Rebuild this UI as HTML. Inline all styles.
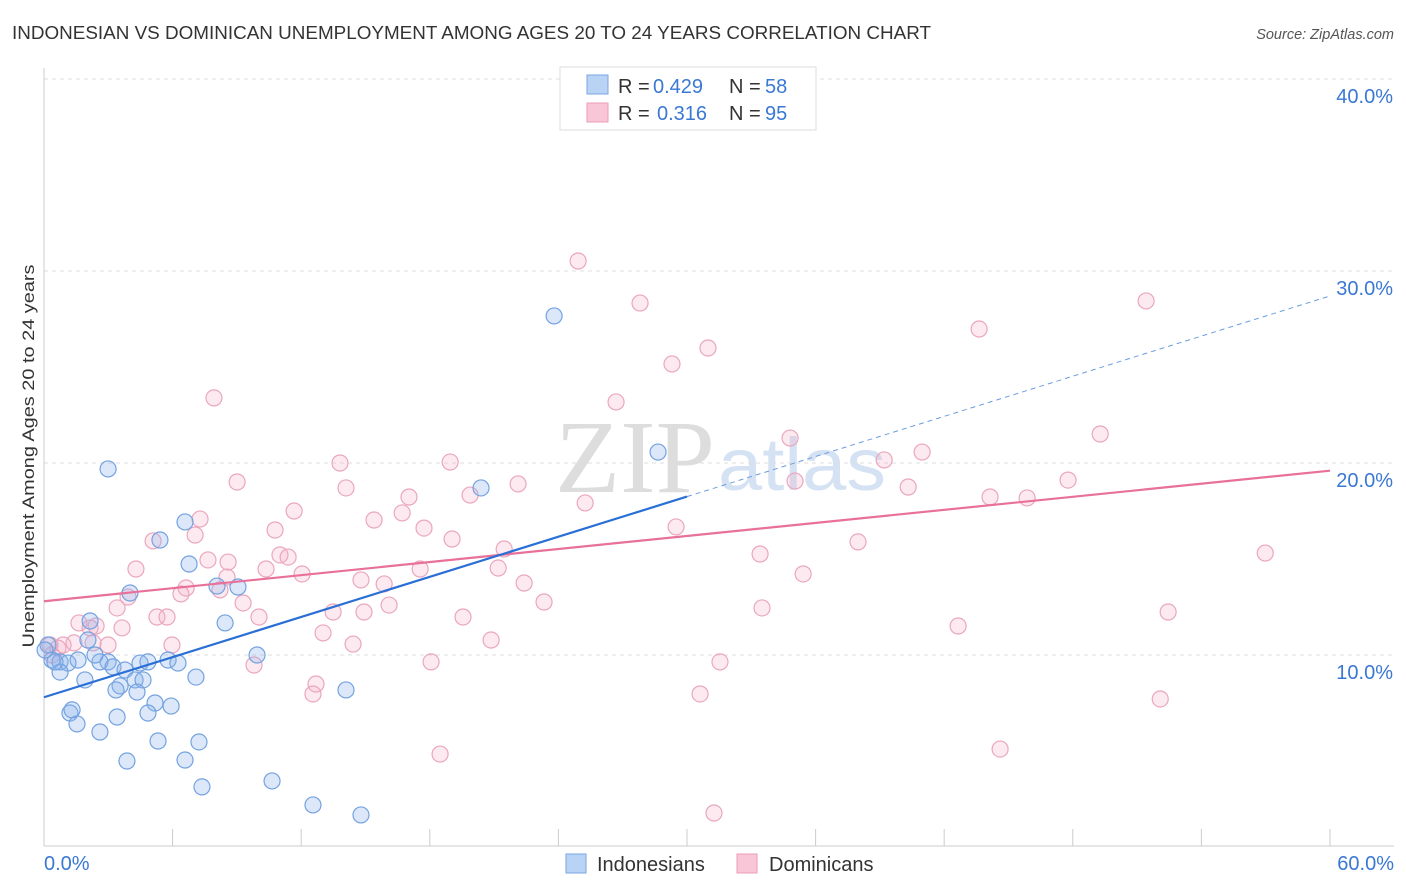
<!DOCTYPE html>
<html><head><meta charset="utf-8"><style>
body{margin:0;background:#fff;font-family:"Liberation Sans",sans-serif;}
#wrap{position:relative;width:1406px;height:892px;overflow:hidden;}
</style></head><body>
<div id="wrap">
<svg id="svg" width="1406" height="892" xmlns="http://www.w3.org/2000/svg">
<text x="12" y="39" font-size="18" fill="#333" textLength="919" lengthAdjust="spacingAndGlyphs">INDONESIAN VS DOMINICAN UNEMPLOYMENT AMONG AGES 20 TO 24 YEARS CORRELATION CHART</text>
<text x="1394" y="39" font-size="14.5" fill="#555" font-style="italic" text-anchor="end">Source: ZipAtlas.com</text>
<text x="555" y="492" font-size="104" fill="#ddd" textLength="160" lengthAdjust="spacingAndGlyphs" font-family="Liberation Serif">ZIP</text>
<text x="718" y="490" font-size="74" fill="#d4e2f3" textLength="168" lengthAdjust="spacingAndGlyphs">atlas</text>
<g id="grid"></g><g id="axes"></g><g id="pts"></g><g id="lines"></g>
<text transform="translate(34,456) rotate(-90)" font-size="17" fill="#333" text-anchor="middle" textLength="383" lengthAdjust="spacingAndGlyphs">Unemployment Among Ages 20 to 24 years</text>
<g>
<rect x="560" y="67" width="256" height="63" fill="#fff" stroke="#ddd"/>
<rect x="587" y="75" width="21" height="19" fill="#b9d3f5" stroke="#7aa6e3"/>
<rect x="587" y="103" width="21" height="19" fill="#f8c6d6" stroke="#ec9cb7"/>
<text y="93" font-size="20" fill="#333"><tspan x="618">R =</tspan><tspan x="653" fill="#3a78d4">0.429</tspan><tspan x="729">N =</tspan><tspan x="765" fill="#3a78d4">58</tspan></text>
<text y="120" font-size="20" fill="#333"><tspan x="618">R =</tspan><tspan x="657" fill="#3a78d4">0.316</tspan><tspan x="729">N =</tspan><tspan x="765" fill="#3a78d4">95</tspan></text>
</g>
<g>
<rect x="566" y="854" width="20" height="19" fill="#b9d3f5" stroke="#7aa6e3"/>
<text x="597" y="871" font-size="20" fill="#333">Indonesians</text>
<rect x="737" y="854" width="20" height="19" fill="#f8c6d6" stroke="#ec9cb7"/>
<text x="769" y="871" font-size="20" fill="#333">Dominicans</text>
</g>
</svg>
</div>
<script>
const yTicks=[10,20,30,40];
const yTickLabels=["10.0%","20.0%","30.0%","40.0%"];
const xTickLabels=["0.0%","60.0%"];
const blueX=[2.99,23.80,28.65,20.39,6.58,5.41,6.77,8.07,9.05,4.01,8.45,2.15,2.05,9.94,2.99,0.19,0.37,0.75,1.12,1.59,2.61,3.22,3.78,4.48,4.85,5.79,6.25,7.09,0.75,1.91,4.25,4.62,3.55,4.34,3.36,14.09,1.21,1.31,5.18,5.93,4.85,3.41,1.54,2.61,5.32,7.23,3.87,6.58,10.64,7.37,12.55,14.79,0.51,0.05,2.38];
const blueY=[19.69,27.66,20.57,18.70,16.93,15.99,14.74,13.59,13.54,13.23,11.67,11.77,10.78,10.0,9.64,10.52,9.74,9.64,9.58,9.74,9.64,9.38,9.22,9.58,9.64,9.74,9.58,8.85,9.11,8.70,8.70,8.70,8.39,8.07,8.18,8.18,6.98,7.14,7.50,7.34,6.98,6.77,6.41,5.99,5.52,5.47,4.48,4.53,3.44,3.13,2.19,1.67,9.64,10.26,10.0];
const pinkX=[24.92,27.81,51.42,43.63,30.98,29.30,7.93,26.69,49.28,34.81,40.97,39.20,13.81,18.95,47.78,35.04,9.01,22.12,40.32,14.09,19.88,17.03,44.14,25.25,11.67,16.71,7.28,15.40,17.73,10.78,29.49,19.04,5.09,7.05,37.98,21.47,11.01,11.39,56.98,33.41,7.65,8.59,10.36,4.29,12.04,21.19,17.55,35.42,14.79,22.40,6.63,6.39,15.87,3.92,9.29,23.33,16.10,3.41,14.93,5.27,5.74,10.03,13.49,33.50,19.55,52.45,1.63,2.43,3.64,13.02,42.65,45.87,20.86,14.42,5.97,1.40,0.65,2.99,0.37,0.89,31.54,18.06,9.80,12.69,12.55,30.61,52.08,18.48,44.61,31.26,2.15,8.54,8.21,2.29,0.28];
const pinkY=[30.52,28.33,28.44,26.98,25.99,25.16,23.39,23.18,21.51,21.30,20.57,20.16,20.0,20.05,19.11,19.06,19.01,18.91,18.75,18.70,18.33,18.23,18.23,17.92,17.5,17.40,17.08,17.03,16.61,16.51,16.67,16.04,15.94,16.25,15.89,15.52,15.21,15.10,15.31,15.26,14.95,14.84,14.48,14.48,14.22,14.53,14.48,14.22,13.91,13.75,13.49,13.18,13.70,13.02,12.71,12.76,12.60,12.45,12.24,11.98,11.98,11.98,12.24,12.45,11.98,12.24,11.67,11.51,11.41,11.15,11.51,18.18,10.78,10.57,10.52,10.63,10.36,10.52,10.0,10.52,9.64,9.64,9.48,8.49,7.97,7.97,7.71,4.84,5.10,1.77,11.41,14.06,13.39,10.63,10.52];
const blueFit=[7.8,28.7];
const pinkFit=[12.8,19.6];
const blueSolidEnd=30;

const NS="http://www.w3.org/2000/svg";
const sx=v=>44+v*21.433;
const sy=v=>847-v*19.2;
function mk(tag,attrs,parent){const e=document.createElementNS(NS,tag);for(const k in attrs)e.setAttribute(k,attrs[k]);parent.appendChild(e);return e;}
const grid=document.getElementById('grid'),axes=document.getElementById('axes'),pts=document.getElementById('pts'),lines=document.getElementById('lines');
mk('line',{x1:44,y1:79,x2:1394,y2:79,stroke:'#ddd','stroke-dasharray':'4,4'},grid);
yTicks.forEach((t,i)=>{
  const l=mk('line',{x1:44,y1:sy(t),x2:1394,y2:sy(t),stroke:'#ddd','stroke-dasharray':'4,4'},grid);
  
  
  const tx=mk('text',{x:1393,y:sy(t)+24,'font-size':20,fill:'#3a78d4','text-anchor':'end'},axes);
  tx.textContent=yTickLabels[i];
  
  
});
const ax=mk('line',{x1:44,y1:68,x2:44,y2:846,stroke:'#ccc'},axes);


const bx=mk('line',{x1:44,y1:846,x2:1394,y2:846,stroke:'#ccc'},axes);


for(let i=0;i<=10;i++){
  const t=mk('line',{x1:sx(i*6),y1:829,x2:sx(i*6),y2:846,stroke:'#ccc'},axes);
  
  
}
[[0,'start',44],[60,'end',1394]].forEach((d,i)=>{
  const t=mk('text',{x:d[2],y:870,'font-size':20,fill:'#3a78d4','text-anchor':d[1]},axes);
  t.textContent=xTickLabels[i];
  
  
});
function drawPts(X,Y,fill,stroke,name){
  X.forEach((x,i)=>{
    const c=mk('circle',{cx:sx(x),cy:sy(Y[i]),r:8,fill:fill,stroke:stroke,'stroke-width':1.2},pts);
    
    
  });
}
drawPts(pinkX,pinkY,'rgba(244,170,195,0.25)','#eaa6be','dominican-point');
drawPts(blueX,blueY,'rgba(140,180,235,0.3)','#73a2e0','indonesian-point');
const fy=(f,x)=>f[0]+(f[1]-f[0])*x/60;
const pl=mk('line',{x1:sx(0),y1:sy(fy(pinkFit,0)),x2:sx(60),y2:sy(fy(pinkFit,60)),stroke:'#e8709a','stroke-width':2.2},lines);


const bl=mk('line',{x1:sx(0),y1:sy(fy(blueFit,0)),x2:sx(blueSolidEnd),y2:sy(fy(blueFit,blueSolidEnd)),stroke:'#2a6fd6','stroke-width':2.2},lines);


const bd=mk('line',{x1:sx(blueSolidEnd),y1:sy(fy(blueFit,blueSolidEnd)),x2:sx(60),y2:sy(fy(blueFit,60)),stroke:'#6b9de0','stroke-width':1,'stroke-dasharray':'5,4'},lines);


</script>
</body></html>
